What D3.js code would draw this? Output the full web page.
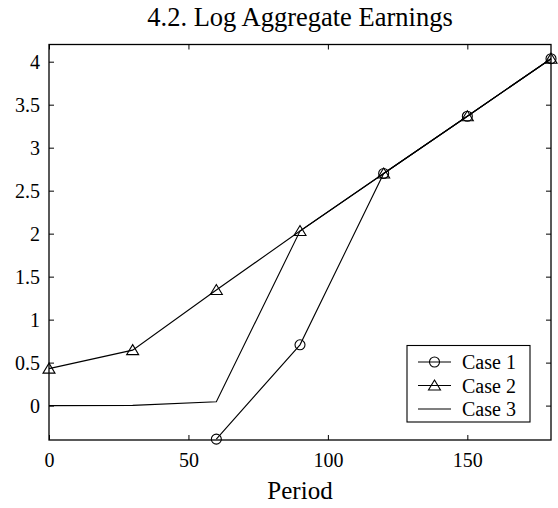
<!DOCTYPE html>
<html><head><meta charset="utf-8">
<script src="https://cdn.jsdelivr.net/npm/d3@7"></script>
<style>body{margin:0;background:#fff} svg text{font-family:"Liberation Serif","Times New Roman",Times,serif}</style>
</head><body>
<svg id="c" width="558" height="508"></svg>
<script>
const title = "4.2. Log Aggregate Earnings";
const xLabel = "Period";
const xTicks = [0, 50, 100, 150];
const yTicks = [0, 0.5, 1, 1.5, 2, 2.5, 3, 3.5, 4];
const yTickLabels = ["0", "0.5", "1", "1.5", "2", "2.5", "3", "3.5", "4"];
const case1X = [60, 90, 120, 150, 180];
const case1Y = [-0.39, 0.707, 2.70, 3.365, 4.035];
const case2X = [0, 30, 60, 90, 120, 150, 180];
const case2Y = [0.43, 0.645, 1.345, 2.03, 2.70, 3.365, 4.035];
const case3X = [0, 30, 60, 90, 120, 150, 180];
const case3Y = [0.0, 0.003, 0.045, 2.03, 2.70, 3.365, 4.035];
const legendNames = ["Case 1", "Case 2", "Case 3"];

const svg = d3.select("#c");
const L = 49, R = 551, T = 44.5, B = 440;
const x = d3.scaleLinear().domain([0, 180]).range([L, R]);
const y = d3.scaleLinear().domain([-0.4, 4.2]).range([B, T]);
const font = "Liberation Serif, Times New Roman, serif";

// title
svg.append("text").attr("x", (L + R) / 2).attr("y", 26).attr("text-anchor", "middle")
  .attr("font-family", font).attr("font-size", 26.5).text(title);

// axes with inward ticks
const gx = svg.append("g").attr("transform", `translate(0,${B})`)
  .call(d3.axisBottom(x).tickValues(xTicks).tickSize(-5).tickPadding(13).tickFormat(d3.format("d")));
const gxt = svg.append("g").attr("transform", `translate(0,${T})`)
  .call(d3.axisTop(x).tickValues(xTicks).tickSize(-5).tickFormat(""));
const gy = svg.append("g").attr("transform", `translate(${L},0)`)
  .call(d3.axisLeft(y).tickValues(yTicks).tickSize(-5).tickPadding(9).tickFormat((d, i) => yTickLabels[i]));
const gyr = svg.append("g").attr("transform", `translate(${R},0)`)
  .call(d3.axisRight(y).tickValues(yTicks).tickSize(-5).tickFormat(""));
[gx, gxt, gy, gyr].forEach(g => {
  g.select(".domain").remove();
  g.selectAll("line").attr("stroke", "#000").attr("stroke-width", 1);
  g.selectAll("text").attr("font-family", font).attr("font-size", 20).attr("fill", "#000");
});
gx.selectAll("text").attr("dy", "0.71em");

// box
svg.append("rect").attr("x", L).attr("y", T).attr("width", R - L).attr("height", B - T)
  .attr("fill", "none").attr("stroke", "#000").attr("stroke-width", 1.3);

// x label
svg.append("text").attr("x", (L + R) / 2).attr("y", 499).attr("text-anchor", "middle")
  .attr("font-family", font).attr("font-size", 25).text(xLabel);

const line = d3.line().x(d => x(d[0])).y(d => y(d[1]));

function series(xs, ys) { return xs.map((v, i) => [v, ys[i]]); }
const s1 = series(case1X, case1Y), s2 = series(case2X, case2Y), s3 = series(case3X, case3Y);

[s3, s2, s1].forEach(s => {
  svg.append("path").datum(s).attr("d", line).attr("fill", "none")
    .attr("stroke", "#000").attr("stroke-width", 1.1);
});

function triPath(cx, cy) {
  const h = 10, w = 12;
  return `M${cx},${cy - h * 0.55}L${cx + w / 2},${cy + h * 0.45}L${cx - w / 2},${cy + h * 0.45}Z`;
}
svg.selectAll(".tri").data(s2).enter().append("path")
  .attr("d", d => triPath(x(d[0]), y(d[1]))).attr("fill", "none").attr("stroke", "#000").attr("stroke-width", 1.1);
svg.selectAll(".circ").data(s1).enter().append("circle")
  .attr("cx", d => x(d[0])).attr("cy", d => y(d[1])).attr("r", 5)
  .attr("fill", "none").attr("stroke", "#000").attr("stroke-width", 1.1);

// legend
const lg = svg.append("g");
lg.append("rect").attr("x", 407).attr("y", 345.5).attr("width", 123).attr("height", 76.5)
  .attr("fill", "#fff").attr("stroke", "#000").attr("stroke-width", 1.1);
const rows = [362, 385.5, 409];
legendNames.forEach((n, i) => {
  const yy = rows[i];
  lg.append("line").attr("x1", 418).attr("x2", 451).attr("y1", yy).attr("y2", yy)
    .attr("stroke", "#000").attr("stroke-width", 1.1);
  if (i === 0) lg.append("circle").attr("cx", 434.5).attr("cy", yy).attr("r", 5)
    .attr("fill", "none").attr("stroke", "#000").attr("stroke-width", 1.1);
  if (i === 1) lg.append("path").attr("d", triPath(434.5, yy)).attr("fill", "none")
    .attr("stroke", "#000").attr("stroke-width", 1.1);
  lg.append("text").attr("x", 462).attr("y", yy).attr("dy", "0.35em")
    .attr("font-family", font).attr("font-size", 20).text(n);
});
</script>
</body></html>
